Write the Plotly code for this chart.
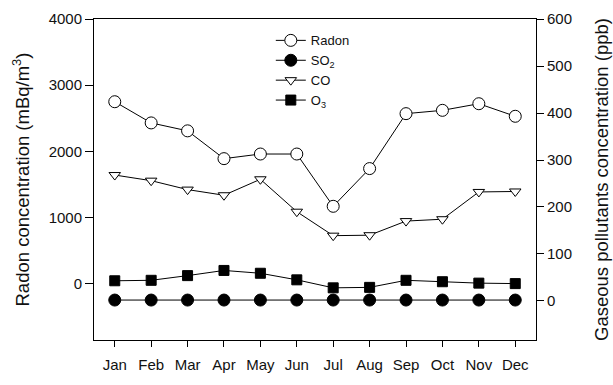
import plotly.graph_objects as go

months = ["Jan", "Feb", "Mar", "Apr", "May", "Jun", "Jul", "Aug", "Sep", "Oct", "Nov", "Dec"]
radon = [2750, 2430, 2310, 1890, 1960, 1960, 1170, 1740, 2570, 2620, 2720, 2530]
so2 = [2, 2, 2, 2, 2, 2, 2, 2, 2, 2, 2, 2]
co = [268, 256, 237, 225, 259, 190, 139, 140, 170, 174, 232, 233]
o3 = [43, 44, 54, 65, 59, 45, 28, 29, 44, 41, 38, 37]

left_ticks = [0, 1000, 2000, 3000, 4000]
right_ticks = [0, 100, 200, 300, 400, 500, 600]

FONT = "Liberation Sans, Arial, sans-serif"
line = dict(color="black", width=1)

fig = go.Figure()
fig.add_trace(go.Scatter(
    x=months, y=radon, name="Radon", mode="lines+markers", yaxis="y",
    line=line, marker=dict(symbol="circle", size=12, color="white",
                           line=dict(color="black", width=1))))
fig.add_trace(go.Scatter(
    x=months, y=so2, name="SO<sub>2</sub>", mode="lines+markers", yaxis="y2",
    line=line, marker=dict(symbol="circle", size=12, color="black",
                           line=dict(color="black", width=1))))
fig.add_trace(go.Scatter(
    x=months, y=co, name="CO", mode="lines+markers", yaxis="y2",
    line=line, marker=dict(symbol="triangle-down", size=10, color="white",
                           line=dict(color="black", width=1))))
fig.add_trace(go.Scatter(
    x=months, y=o3, name="O<sub>3</sub>", mode="lines+markers", yaxis="y2",
    line=line, marker=dict(symbol="square", size=10, color="black",
                           line=dict(color="black", width=1))))

fig.update_layout(
    width=613, height=385, autosize=False,
    margin=dict(l=94, r=77, t=19, b=27, pad=0),
    plot_bgcolor="white", paper_bgcolor="white",
    font=dict(family=FONT, size=15, color="#111"),
    showlegend=True,
    legend=dict(x=0.40, y=0.98, xanchor="left", yanchor="top",
                bgcolor="rgba(0,0,0,0)", font=dict(size=13), tracegroupgap=0),
    xaxis=dict(
        type="category", range=[-0.57, 11.57],
        showline=True, linecolor="black", linewidth=1, mirror=True,
        ticks="outside", ticklen=6, tickcolor="black", showgrid=False,
        zeroline=False, tickfont=dict(size=15), ticklabelstandoff=5),
    yaxis=dict(
        range=[-850, 4000], tickvals=left_ticks,
        showline=True, linecolor="black", linewidth=1,
        ticks="outside", ticklen=8, tickcolor="black", showgrid=False,
        zeroline=False, automargin=False,
        title=dict(text="Radon concentration (mBq/m<sup>3</sup>)",
                   font=dict(size=18.5), standoff=14)),
    yaxis2=dict(
        range=[-83, 600], tickvals=right_ticks, overlaying="y", side="right",
        showline=True, linecolor="black", linewidth=1,
        ticks="outside", ticklen=7, tickcolor="black", showgrid=False,
        zeroline=False, automargin=False,
        title=dict(text="Gaseous pollutants concentration (ppb)",
                   font=dict(size=18.5), standoff=24)),
)

fig.write_html("out.html")
